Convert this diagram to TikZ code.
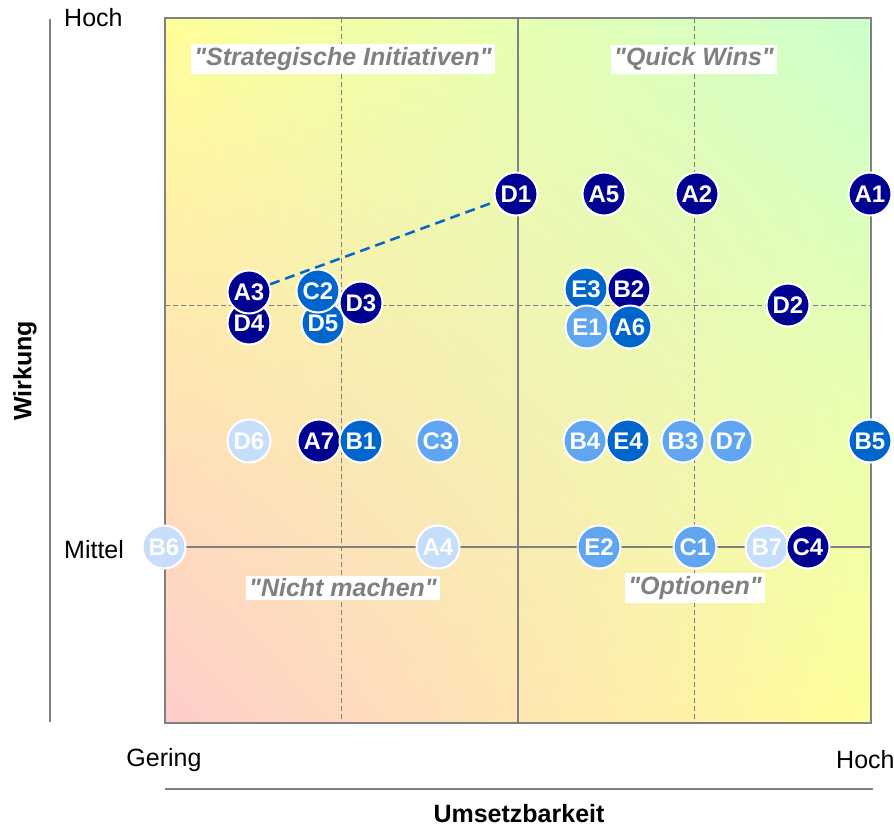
\documentclass[tikz,border=0pt]{standalone}
\usepackage{fontspec}
\setmainfont{Liberation Sans}
\usepackage{xcolor}
\usetikzlibrary{shadings}
\definecolor{cdark}{RGB}{0,0,145}
\definecolor{cmid}{RGB}{0,102,204}
\definecolor{clight}{RGB}{95,165,240}
\definecolor{cpale}{RGB}{198,222,250}
\definecolor{cgray}{RGB}{128,128,128}
\definecolor{cpink}{RGB}{255,204,204}
\definecolor{cyel}{RGB}{255,255,153}
\definecolor{cgreen}{RGB}{204,255,204}

\begin{document}
\begin{tikzpicture}[x=1pt,y=-1pt,
  ball/.style={circle,draw=white,line width=2pt,minimum size=43pt,inner sep=0pt,
    text=white,font=\fontsize{24}{26}\selectfont\bfseries},
  bdark/.style={ball,fill=cdark},
  bmid/.style={ball,fill=cmid},
  blight/.style={ball,fill=clight},
  bpale/.style={ball,fill=cpale},
  quad/.style={fill=white,text=cgray,inner sep=3pt,
    font=\fontsize{25}{28}\selectfont\bfseries\itshape},
  axlabel/.style={inner sep=0pt,font=\fontsize{25}{28}\selectfont},
  axtitle/.style={inner sep=0pt,font=\fontsize{25}{28}\selectfont\bfseries}]
\useasboundingbox (0,0) rectangle (894,833);
% background of the matrix
\shade[lower left=cpink,upper right=cgreen,upper left=cyel,lower right=cyel]
  (165,18) rectangle (871,723);
\draw[cgray,dashed,line width=1pt,dash pattern=on 5pt off 3pt] (341,18) -- (341,723);
\draw[cgray,dashed,line width=1pt,dash pattern=on 5pt off 3pt] (694,18) -- (694,723);
\draw[cgray,dashed,line width=1pt,dash pattern=on 5pt off 3pt] (165,305) -- (871,305);
\draw[cgray,line width=2pt] (518,18) -- (518,723);
\draw[cgray,line width=2pt] (165,547) -- (871,547);
\draw[cgray,line width=2pt] (165,18) rectangle (871,723);
% axes
\draw[cgray,line width=2pt] (50,19) -- (50,722);
\draw[cgray,line width=2pt] (165,789) -- (873,789);
\node[axlabel,anchor=west] (yhigh) at (64,18) {Hoch};
\node[axlabel,anchor=west] (ymid) at (64,550) {Mittel};
\node[axtitle,rotate=90] (ytitle) at (25,371) {Wirkung};
\node[axlabel] (xlow) at (164,760) {Gering};
\node[axlabel,anchor=west] (xhigh) at (836,760) {Hoch};
\node[axtitle] (xtitle) at (519,814) {Umsetzbarkeit};
% quadrants
\node[quad] (q1) at (343,59) {\textquotedbl Strategische Initiativen\textquotedbl};
\node[quad] (q2) at (694,59) {\textquotedbl Quick Wins\textquotedbl};
\node[quad] (q3) at (343,588) {\textquotedbl Nicht machen\textquotedbl};
\node[quad] (q4) at (695,588) {\textquotedbl Optionen\textquotedbl};
% measures
\node[bdark] (D1) at (516,194) {D1};
\node[bdark] (A5) at (604,194) {A5};
\node[bdark] (A2) at (697,194) {A2};
\node[bdark] (A1) at (870,194) {A1};
\node[bdark] (D4) at (249,323) {D4};
\node[bdark] (A3) at (249,292) {A3};
\node[bmid] (D5) at (323,323) {D5};
\node[bmid] (C2) at (318,291) {C2};
\node[bdark] (D3) at (361,303) {D3};
\node[bmid] (E3) at (586,289) {E3};
\node[bdark] (B2) at (629,289) {B2};
\node[blight] (E1) at (587,327) {E1};
\node[bmid] (A6) at (630,327) {A6};
\node[bdark] (D2) at (788,305) {D2};
\node[bpale] (D6) at (249,441) {D6};
\node[bdark] (A7) at (319,441) {A7};
\node[bmid] (B1) at (361,441) {B1};
\node[blight] (C3) at (438,441) {C3};
\node[blight] (B4) at (585,441) {B4};
\node[bmid] (E4) at (628,441) {E4};
\node[blight] (B3) at (683,441) {B3};
\node[blight] (D7) at (731,441) {D7};
\node[bmid] (B5) at (870,441) {B5};
\node[bpale] (B6) at (164,547) {B6};
\node[bpale] (A4) at (438,547) {A4};
\node[blight] (E2) at (599,547) {E2};
\node[blight] (C1) at (695,547) {C1};
\node[bpale] (B7) at (767,547) {B7};
\node[bdark] (C4) at (808,547) {C4};
\draw[cmid,line width=2.5pt,dash pattern=on 10pt off 6pt] (A3) -- (D1);
\end{tikzpicture}
\end{document}
